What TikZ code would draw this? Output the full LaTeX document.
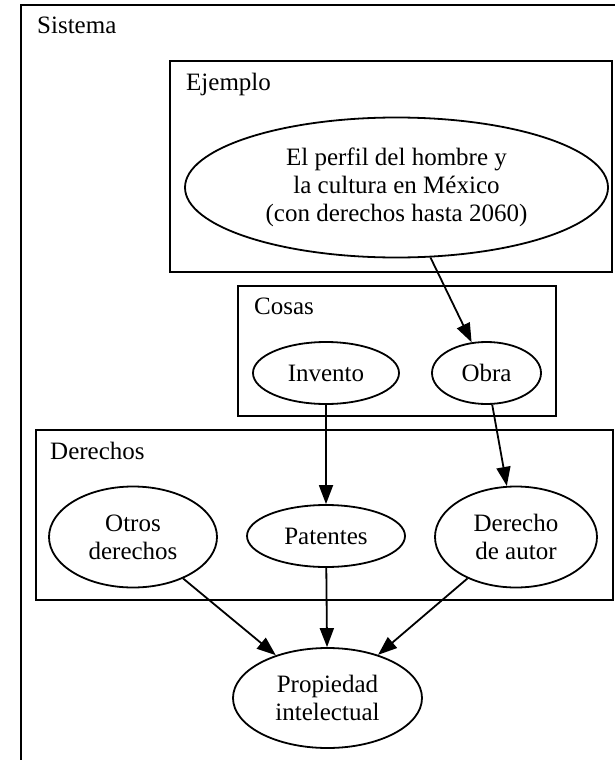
\documentclass[tikz,border=0pt]{standalone}
\usepackage{fontspec}
\setmainfont{Liberation Serif}
\usetikzlibrary{shapes.geometric,arrows.meta}

\begin{document}
\begin{tikzpicture}[x=1pt,y=-1pt,
		every node/.style={font=\fontsize{25}{28}\selectfont},
		vertex/.style={draw,ellipse,line width=1.8pt,inner sep=0pt,align=center},
		cluster/.style={draw,line width=1.8pt},
		lbl/.style={anchor=base west,inner sep=0pt},
		edge/.style={line width=1.8pt,-{Triangle[length=19pt,width=14pt]}}]
				\useasboundingbox (0,0) rectangle (615,760);
				\clip (0,0) rectangle (615,760);
				% clusters
				\draw[cluster] (21,5) rectangle (640,800);
				\node[lbl] (sistema) at (37,34) {Sistema};
				\draw[cluster] (170,61) rectangle (612,272);
				\node[lbl] (ejemplo) at (186,90) {Ejemplo};
				\draw[cluster] (238,286) rectangle (556,416);
				\node[lbl] (cosas) at (254,314) {Cosas};
				\draw[cluster] (36,430) rectangle (613,600);
				\node[lbl] (derechos) at (50,459) {Derechos};
				% vertices
				\node[vertex,minimum width=423pt,minimum height=140pt] (E) at (396.5,187.5) {El perfil del hombre y\\la cultura en México\\(con derechos hasta 2060)};
				\node[vertex,minimum width=146pt,minimum height=62pt] (I) at (326,373) {Invento};
				\node[vertex,minimum width=109pt,minimum height=62pt] (O) at (486.5,373) {Obra};
				\node[vertex,minimum width=168pt,minimum height=101pt] (R) at (133,537) {Otros\\derechos};
				\node[vertex,minimum width=158pt,minimum height=62pt] (P) at (326,536) {Patentes};
				\node[vertex,minimum width=162pt,minimum height=101pt] (D) at (516,537) {Derecho\\de autor};
				\node[vertex,minimum width=189pt,minimum height=100pt] (PI) at (327.5,698) {Propiedad\\intelectual};
				% edges
				\draw[edge] (E) -- (O);
				\draw[edge] (I) -- (P);
				\draw[edge] (O) -- (D);
				\draw[edge] (R) -- (PI);
				\draw[edge] (P) -- (PI);
				\draw[edge] (D) -- (PI);
			\end{tikzpicture}
\end{document}
